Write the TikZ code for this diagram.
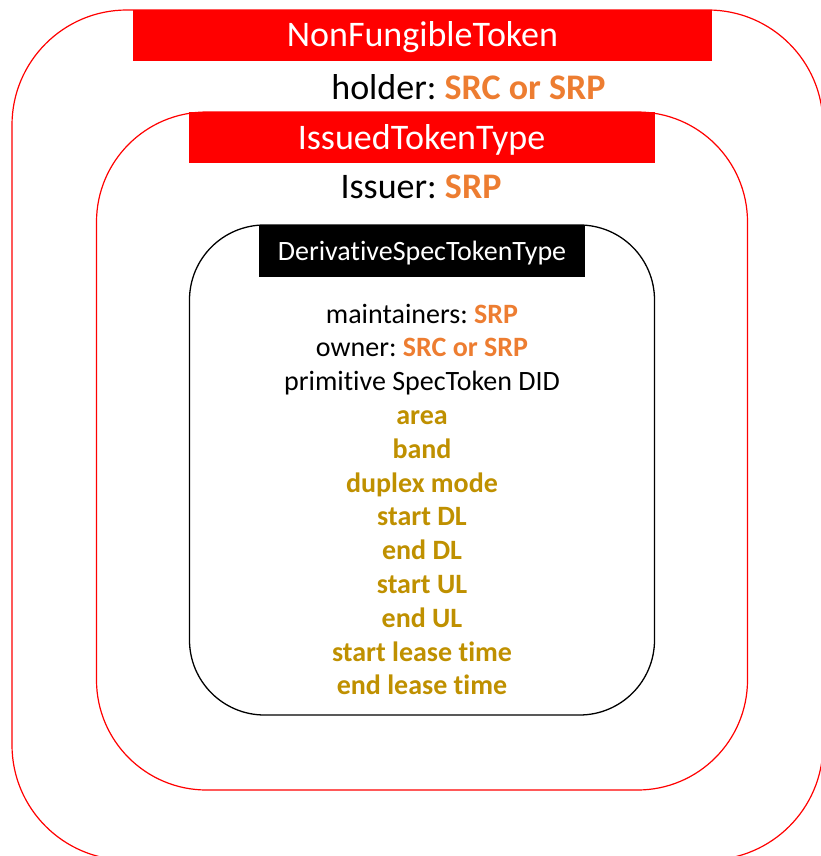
\documentclass[tikz,border=0pt]{standalone}
\usepackage{fontspec}
\setmainfont{Carlito}[Ligatures=NoCommon]
\usepackage{tikz}
\definecolor{srcorange}{HTML}{ED7D31}
\definecolor{specgold}{HTML}{BF9000}
\newcommand{\nftbig}{\fontsize{36}{43}\selectfont}
\newcommand{\nftsmall}{\fontsize{28}{34}\selectfont}
\newcommand{\orangebold}[1]{\textcolor{srcorange}{\bfseries #1}}
\frenchspacing
\tikzset{
  tokenframe/.style={draw=red,line width=1.2pt,rounded corners=#1},
  specframe/.style={draw=black,line width=1.3pt,rounded corners=75pt},
  titlebar/.style={fill=red,text=white,font=\nftbig,minimum width=#1,minimum height=51pt,inner sep=0pt,text height=23pt,text depth=0pt},
  specbar/.style={fill=black,text=white,font=\nftsmall,minimum width=326pt,minimum height=52pt,inner sep=0pt,text height=18pt,text depth=0pt},
  biglabel/.style={anchor=base,font=\nftbig,inner sep=0pt},
  speclabel/.style={anchor=base,font=\nftsmall,inner sep=0pt},
  goldlabel/.style={speclabel,text=specgold,font=\nftsmall\bfseries}
}
\begin{document}
\begin{tikzpicture}[x=1pt,y=-1pt]
\useasboundingbox (0,0) rectangle (821,856);
\clip (0,0) rectangle (821,856);
% Drawing frames
\draw[tokenframe=115pt] (12,10) rectangle (823,860);
\draw[tokenframe=110pt] (96.5,112) rectangle (747.5,790);
\draw[specframe] (189.5,225) rectangle (654.5,715);
% Done with frames; drawing title bars
\node[titlebar=579pt] (nft) at (422.5,35.5) {NonFungibleToken};
\node[titlebar=466pt] (issued) at (421.5,137.5) {IssuedTokenType};
\node[specbar] (spec) at (422,251) {DerivativeSpecTokenType};
% Done with title bars; drawing labels
\node[biglabel] (holder) at (468.5,100) {holder: \orangebold{SRC or SRP}};
\node[biglabel] (issuer) at (421,198) {Issuer: \orangebold{SRP}};
% Line 1-3: roles and DID
\node[speclabel] (maint) at (422,323) {maintainers: \orangebold{SRP}};
\node[speclabel] (owner) at (422,356.8) {owner: \orangebold{SRC or SRP}};
\node[speclabel] (primdid) at (422,390.6) {primitive SpecToken DID};
% Line 4-12: spectrum fields
\node[goldlabel] (area) at (422,424.4) {area};
\node[goldlabel] (band) at (422,458.2) {band};
\node[goldlabel] (duplex) at (422,492) {duplex mode};
\node[goldlabel] (startdl) at (422,525.8) {start DL};
\node[goldlabel] (enddl) at (422,559.6) {end DL};
\node[goldlabel] (startul) at (422,593.4) {start UL};
\node[goldlabel] (endul) at (422,627.2) {end UL};
\node[goldlabel] (startlease) at (422,661) {start lease time};
\node[goldlabel] (endlease) at (422,694.8) {end lease time};
% Done with labels
\end{tikzpicture}
\end{document}
